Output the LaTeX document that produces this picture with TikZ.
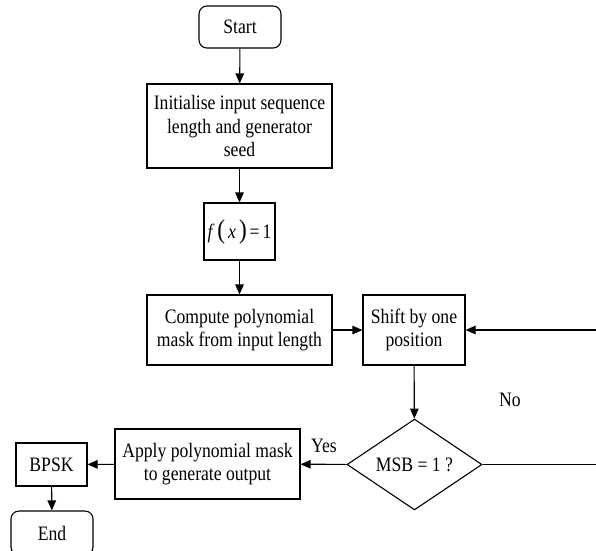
\documentclass[tikz,border=0pt]{standalone}
\usepackage{fontspec}
\setmainfont[FakeStretch=0.86]{Liberation Serif}
\usetikzlibrary{arrows.meta,shapes.geometric}
\newcommand{\bigparen}[1]{{\fontsize{27}{27}\selectfont#1}}
\begin{document}
\begin{tikzpicture}[x=1pt,y=-1pt,
  every node/.style={font=\fontsize{20.5}{23.5}\selectfont},
  box/.style={draw,line width=1.1pt,inner sep=2pt,align=center},
  term/.style={box,rounded corners=8pt},
  decide/.style={draw,line width=1.1pt,diamond,inner sep=0pt},
  flow/.style={line width=1.1pt,-{Triangle[length=10pt,width=8.5pt]}},
  plain/.style={line width=1.1pt}]
\useasboundingbox (0,0) rectangle (596,550);
\clip (0,0) rectangle (596,550);

% main column
\node[term,minimum width=82pt,minimum height=42pt] (start) at (240,27) {Start};
\node[box,minimum width=185pt,minimum height=84pt] (init) at (239.5,126)
  {Initialise input sequence\\length and generator\\seed};
\node[box,minimum width=71pt,minimum height=57pt,inner sep=0pt] (fx) at (239.5,231.5)
  {\textit{f}\kern3pt\bigparen{(}\kern3pt\textit{x}\kern3pt\bigparen{)}\kern3pt=\kern3pt1};
\node[box,minimum width=185pt,minimum height=70pt] (mask) at (239.5,330)
  {Compute polynomial\\mask from input length};

% shift / test loop
\node[box,minimum width=102pt,minimum height=70pt] (shift) at (414,330)
  {Shift by one\\position};
\node[decide,minimum width=135pt,minimum height=85pt] (msb) at (414.5,464.5) {MSB = 1 ?};
\node[box,minimum width=185pt,minimum height=70pt] (apply) at (207.5,464)
  {Apply polynomial mask\\to generate output};
\node[box,minimum width=71pt,minimum height=43pt] (bpsk) at (51.5,464.5) {BPSK};
\node[term,minimum width=82pt,minimum height=44pt] (end) at (52,533) {End};

\node (yes) at (324,446) {Yes};
\node (no) at (510,400) {No};

\coordinate (lpbot) at (612,464.5);
\coordinate (lptop) at (612,330);

\draw[flow] (start) -- (init);
\draw[flow] (init) -- (fx);
\draw[flow] (fx) -- (mask);
\draw[flow] (mask) -- (shift);
\draw[flow] (shift) -- (msb);
\draw[flow] (msb) -- (apply);
\draw[flow] (apply) -- (bpsk);
\draw[flow] (bpsk) -- (end);
\draw[plain] (msb.east) -- (lpbot) -- (lptop);
\draw[flow] (lptop) -- (shift.east);
\end{tikzpicture}
\end{document}
